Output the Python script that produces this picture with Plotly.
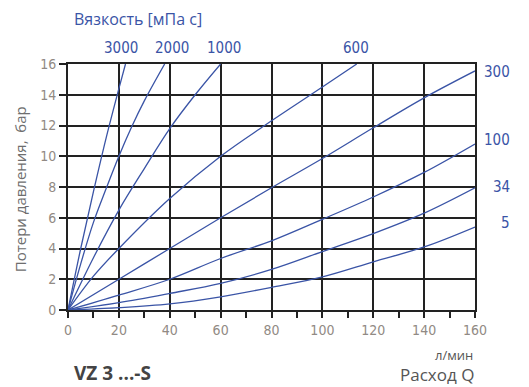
import plotly.graph_objects as go

# ---- data ----
x_3000 = [0, 5, 10, 15, 20, 22.6]
y_3000 = [0, 4.0, 7.7, 11.2, 14.4, 16]
x_2000 = [0, 5, 10, 15, 20, 25, 30, 38]
y_2000 = [0, 3.0, 5.7, 7.9, 10, 11.9, 13.6, 16]
x_1000 = [0, 10, 20, 30, 40, 50, 60]
y_1000 = [0, 3.4, 6.5, 9.2, 11.8, 14.0, 16]
x_600 = [0, 10, 20, 40, 60, 77.3, 100, 113.5]
y_600 = [0, 2.2, 4, 7.25, 10, 12, 14.5, 16]
x_std = [0, 20, 40, 60, 80, 100, 120, 140, 160]
y_300 = [0, 2, 4, 6, 7.95, 9.85, 11.85, 13.8, 15.55]
y_100 = [0, 0.97, 2, 3.35, 4.5, 5.9, 7.35, 8.95, 10.8]
y_34 = [0, 0.48, 1.08, 1.73, 2.64, 3.8, 4.97, 6.3, 7.95]
y_5 = [0, 0.15, 0.4, 0.86, 1.47, 2.15, 3.13, 4.1, 5.4]

top_labels = ["3000", "2000", "1000", "600"]
top_label_x = [20.7, 40.8, 61.3, 113.2]
right_labels = ["300", "100", "34", "5"]
right_label_y = [15.5, 11.07, 8.0, 5.67]

x_ticks = [0, 20, 40, 60, 80, 100, 120, 140, 160]
y_ticks = [0, 2, 4, 6, 8, 10, 12, 14, 16]

BLUE = "#3a54a6"
GRID = "#222222"
TICKC = "#918a84"
FONT = "Liberation Sans Narrow, DejaVu Sans Condensed, Roboto, sans-serif"

series = [
    (x_3000, y_3000), (x_2000, y_2000), (x_1000, y_1000), (x_600, y_600),
    (x_std, y_300), (x_std, y_100), (x_std, y_34), (x_std, y_5),
]

fig = go.Figure()
for xs, ys in series:
    fig.add_trace(go.Scatter(
        x=xs, y=ys, mode="lines",
        line=dict(color=BLUE, width=1.3, shape="spline", smoothing=1.0),
        showlegend=False, hoverinfo="skip", cliponaxis=True,
    ))

fig.update_layout(
    width=521, height=379,
    margin=dict(l=60, r=54, t=56, b=77),
    paper_bgcolor="white", plot_bgcolor="white",
    font=dict(family=FONT, size=14, color=TICKC),
    xaxis=dict(
        range=[0, 160], tickmode="array", tickvals=x_ticks,
        ticktext=[str(v) for v in x_ticks],
        showgrid=True, gridcolor=GRID, gridwidth=1.8,
        showline=True, linecolor=GRID, linewidth=2, mirror=True,
        ticks="outside", ticklen=6, tickwidth=1.8, tickcolor=GRID,
        minor=dict(dtick=10, ticks="outside", ticklen=6, tickwidth=1.5,
                   tickcolor=GRID, showgrid=False),
        zeroline=False, tickfont=dict(size=14, color=TICKC),
        fixedrange=True,
    ),
    yaxis=dict(
        range=[0, 16], tickmode="array", tickvals=y_ticks,
        ticktext=[str(v) for v in y_ticks],
        showgrid=True, gridcolor=GRID, gridwidth=1.8,
        showline=True, linecolor=GRID, linewidth=2, mirror=True,
        ticks="outside", ticklen=7, tickwidth=1.8, tickcolor=GRID,
        zeroline=False, tickfont=dict(size=14, color=TICKC),
        fixedrange=True,
    ),
)

ann = []
ann.append(dict(text="Вязкость [мПа с]", xref="paper", yref="paper",
                x=0.009, y=1.181, xanchor="left", yanchor="middle",
                showarrow=False, font=dict(size=16, color=BLUE, family="Open Sans, sans-serif")))
for t, xv in zip(top_labels, top_label_x):
    ann.append(dict(text=t, xref="x", yref="paper", x=xv, y=1.067,
                    xanchor="center", yanchor="middle", showarrow=False,
                    font=dict(size=15, color=BLUE)))
for t, yv in zip(right_labels, right_label_y):
    ann.append(dict(text=t, xref="paper", yref="y", x=1.091, y=yv,
                    xanchor="right", yanchor="middle", showarrow=False,
                    font=dict(size=15, color=BLUE)))
ann.append(dict(text="Потери давления,  бар", xref="paper", yref="paper",
                x=-0.119, y=0.489, textangle=-90, xanchor="center", yanchor="middle",
                showarrow=False, font=dict(size=15, color="#6e6e6e", family="Open Sans, sans-serif")))
ann.append(dict(text="л/мин", xref="paper", yref="paper", x=1.0, y=-0.183,
                xanchor="right", yanchor="middle", showarrow=False,
                font=dict(size=13, color="#555555", family="Open Sans, sans-serif")))
ann.append(dict(text="Расход Q", xref="paper", yref="paper", x=1.003, y=-0.262,
                xanchor="right", yanchor="middle", showarrow=False,
                font=dict(size=17, color="#555555", family="Open Sans, sans-serif")))
ann.append(dict(text="<b>VZ 3 ...-S</b>", xref="paper", yref="paper", x=0.009, y=-0.255,
                xanchor="left", yanchor="middle", showarrow=False,
                font=dict(size=19, color="#444444", family="Open Sans, sans-serif")))
fig.update_layout(annotations=ann)

fig.write_html("out.html")
